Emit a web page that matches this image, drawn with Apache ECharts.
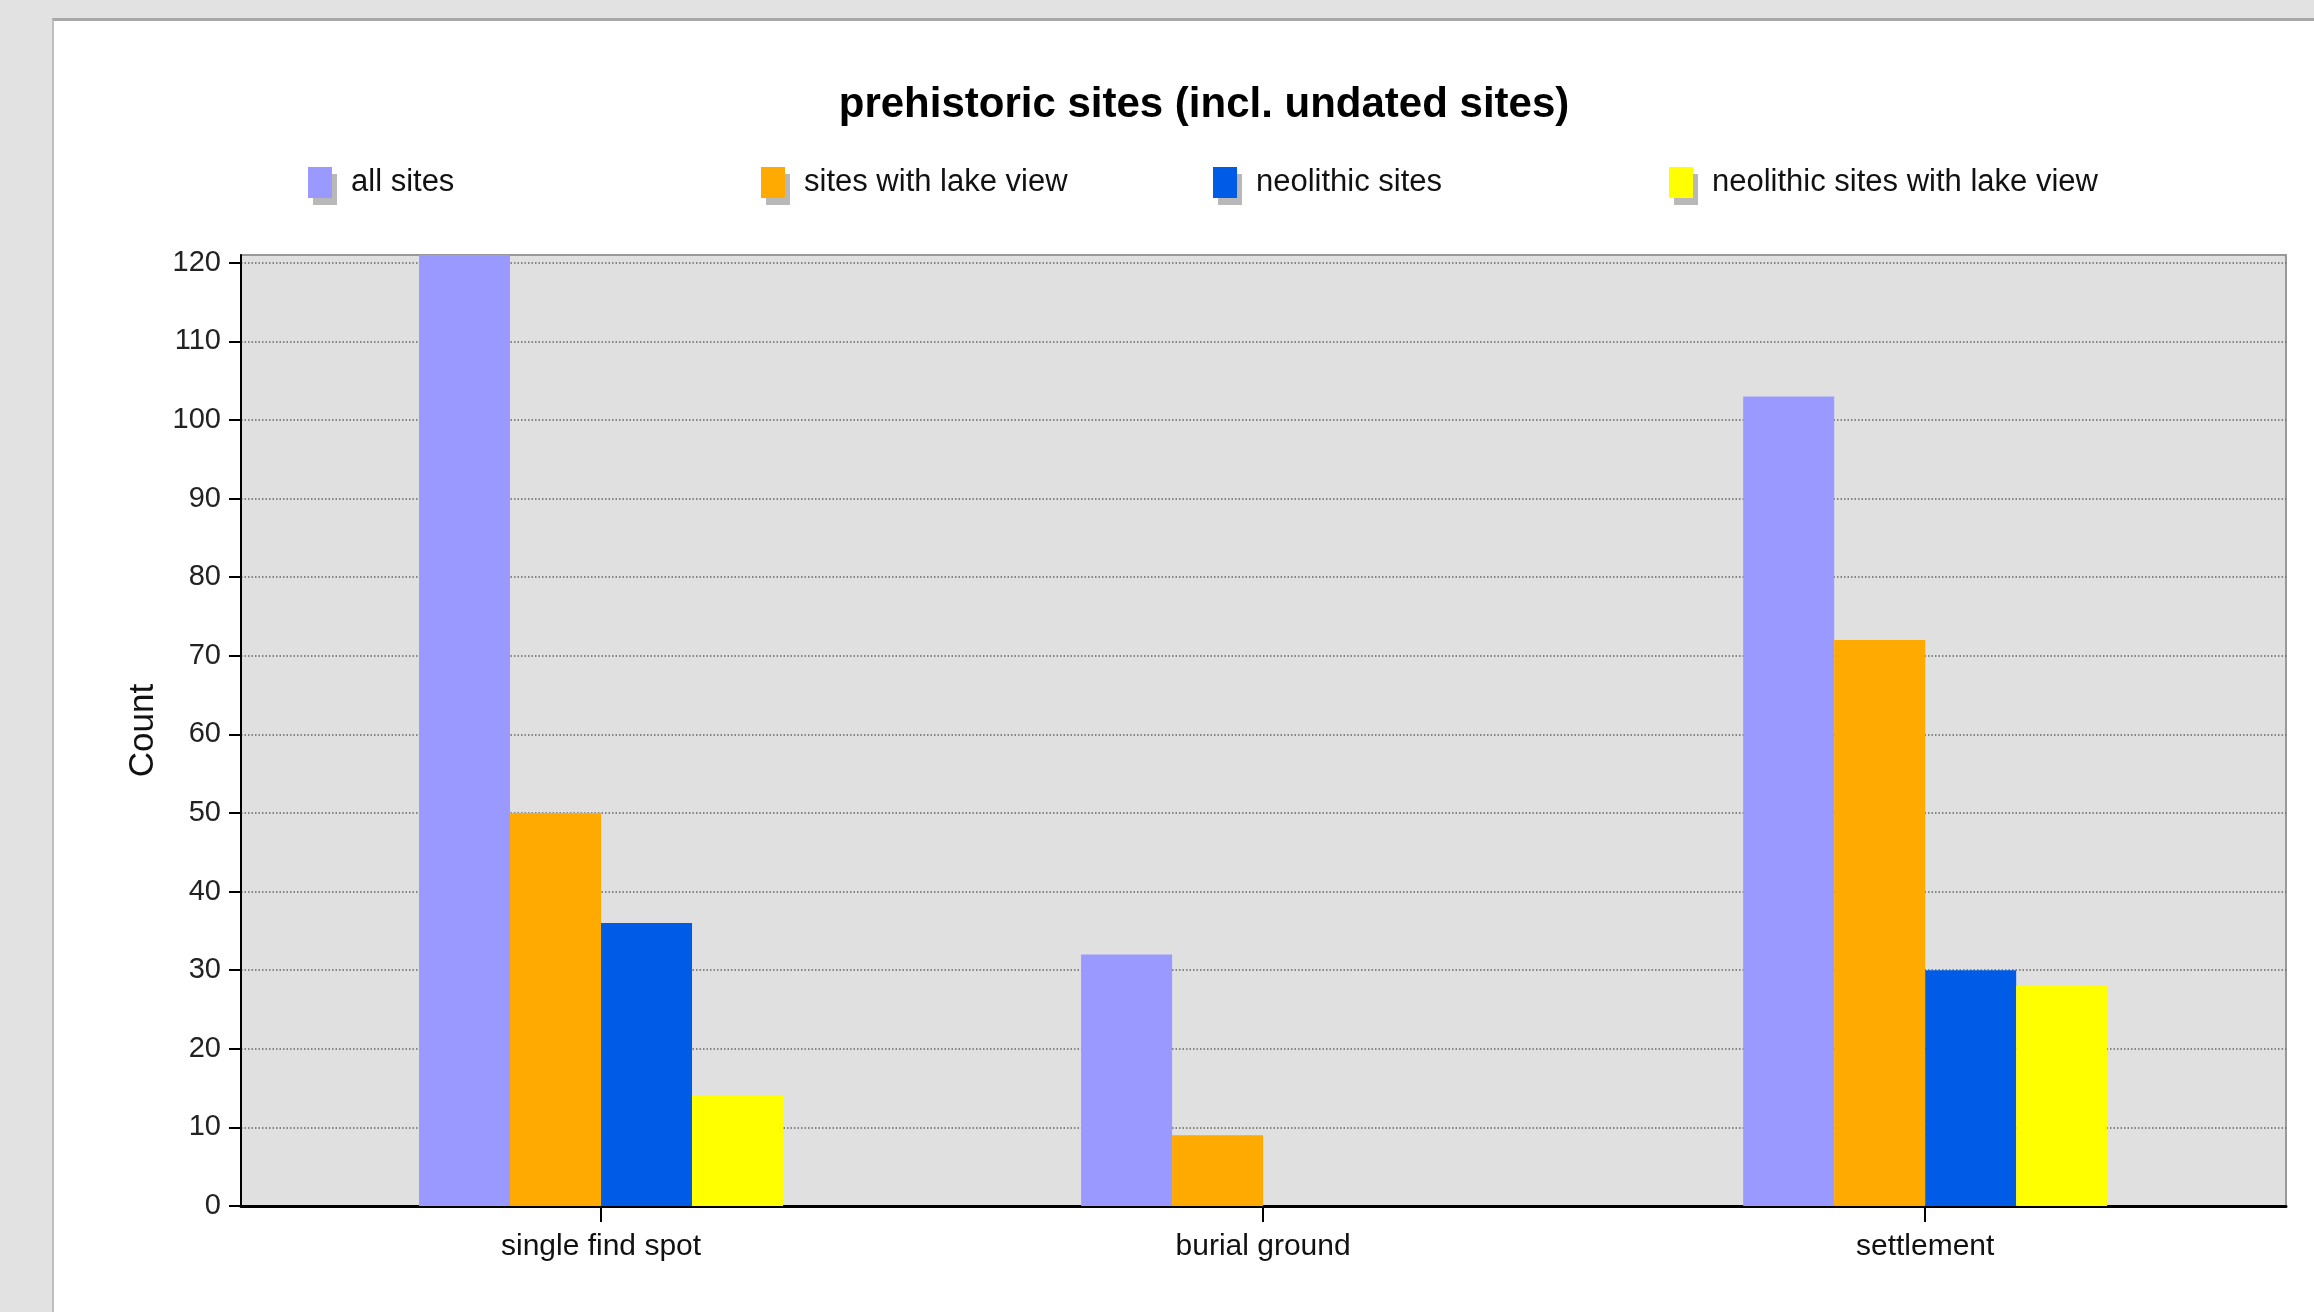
<!DOCTYPE html>
<html>
<head>
<meta charset="utf-8">
<script src="https://cdn.jsdelivr.net/npm/echarts@6/dist/echarts.min.js"></script>
<style>
html, body { margin:0; padding:0; width:2314px; height:1312px; background:#e2e2e2; overflow:hidden; }
#panel { position:absolute; left:52px; top:18px; right:0; bottom:0; background:#fff; border-top:3px solid #a8a8a8; border-left:2px solid #bdbdbd; }
#chart { position:absolute; left:0; top:0; width:2314px; height:1312px; }
</style>
</head>
<body>
<div id="panel"></div>
<div id="chart"></div>
<script>
// data
var categories = ['single find spot', 'burial ground', 'settlement'];
var seriesNames = ['all sites', 'sites with lake view', 'neolithic sites', 'neolithic sites with lake view'];
var allSites = [121, 32, 103];
var lakeView = [50, 9, 72];
var neolithic = [36, 0, 30];
var neolithicLake = [14, 0, 28];
var yTicks = [0, 10, 20, 30, 40, 50, 60, 70, 80, 90, 100, 110, 120];
var xTicks = [0, 1, 2];

var colors = ['#9999ff', '#ffaa00', '#005ce6', '#ffff00'];
var font = 'Liberation Sans, Arial, sans-serif';
var legendLeft = [303, 756, 1208, 1664];

function pairs(arr) {
    var out = [];
    for (var i = 0; i < arr.length; i++) {
        out.push([i, arr[i]]);
    }
    return out;
}

var chart = echarts.init(document.getElementById('chart'), null, { renderer: 'canvas' });

var values = [allSites, lakeView, neolithic, neolithicLake];
var series = [];
var legends = [];
for (var s = 0; s < values.length; s++) {
    series.push({
        name: seriesNames[s],
        type: 'bar',
        data: pairs(values[s]),
        barWidth: 91,
        barGap: '0%',
        itemStyle: { color: colors[s] }
    });
    // one legend per item so the spacing is even like the original
    legends.push({
        left: legendLeft[s],
        top: 162,
        itemWidth: 24,
        itemHeight: 31,
        icon: 'rect',
        data: [seriesNames[s]],
        itemStyle: { shadowColor: '#b8b8b8', shadowOffsetX: 5, shadowOffsetY: 7, shadowBlur: 0 },
        textStyle: { fontFamily: font, fontSize: 31, color: '#111', padding: [0, 0, 0, 14] }
    });
}

chart.setOption({
    animation: false,
    color: colors,
    title: {
        text: 'prehistoric sites (incl. undated sites)',
        left: 1199,
        top: 79,
        textAlign: 'center',
        textStyle: { fontFamily: font, fontSize: 42, fontWeight: 'bold', color: '#000' }
    },
    legend: legends,
    grid: {
        left: 241,
        right: 28,
        top: 255,
        bottom: 106,
        show: true,
        backgroundColor: '#e0e0e0',
        borderColor: '#999',
        borderWidth: 2
    },
    xAxis: {
        type: 'value',
        min: -0.5438,
        max: 2.545,
        splitLine: { show: false },
        axisLine: { onZero: false, lineStyle: { color: '#000', width: 3 } },
        axisTick: { show: true, customValues: xTicks, length: 16, lineStyle: { color: '#000', width: 2 } },
        axisLabel: {
            customValues: xTicks,
            margin: 26,
            fontFamily: font,
            fontSize: 30,
            color: '#111',
            formatter: function (v) { return categories[Math.round(v)]; }
        }
    },
    yAxis: {
        type: 'value',
        min: 0,
        max: 121,
        interval: 10,
        name: 'Count',
        nameLocation: 'middle',
        nameGap: 80,
        nameTextStyle: { fontFamily: font, fontSize: 35, color: '#111' },
        axisLine: { show: true, onZero: false, lineStyle: { color: '#000', width: 2 } },
        axisTick: { show: true, customValues: yTicks, length: 12, lineStyle: { color: '#000', width: 2 } },
        axisLabel: {
            customValues: yTicks,
            margin: 20,
            fontFamily: font,
            fontSize: 29,
            color: '#222'
        },
        splitLine: { show: true, lineStyle: { color: '#666', width: 1.5, type: [1.5, 2] } }
    },
    series: series
});
</script>
</body>
</html>
